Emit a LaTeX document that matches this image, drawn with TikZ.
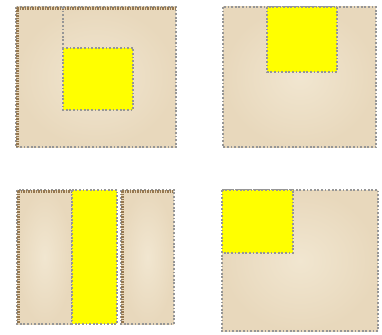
\documentclass[tikz,border=0pt]{standalone}
\usetikzlibrary{shadings}
\definecolor{parchlight}{RGB}{241,230,208}
\definecolor{parchdark}{RGB}{232,216,188}
\definecolor{edgebrown}{RGB}{150,120,80}
\definecolor{dashgray}{RGB}{150,150,150}
\definecolor{pureyellow}{RGB}{255,255,0}
\tikzset{
  paper/.style={inner color=parchlight, outer color=parchdark},
  border/.style={draw=dashgray, line width=1.2pt, dash pattern=on 1.8pt off 1.8pt},
  hilite/.style={fill=pureyellow, draw=dashgray, line width=1.2pt, dash pattern=on 1.8pt off 1.8pt},
  brownedge/.style={draw=edgebrown, line width=2.2pt, dash pattern=on 1.5pt off 1pt}
}
\begin{document}
\begin{tikzpicture}[x=1pt,y=-1pt]
\useasboundingbox (0,0) rectangle (382,334);
% top-left panel
\shade[paper] (16,7) rectangle (176,147);
\draw[border] (16,7) rectangle (176,147);
\draw[brownedge] (17.5,8) -- (17.5,146);
\draw[brownedge] (17,8.5) -- (175,8.5);
\draw[border] (63,7) -- (63,48);
\draw[hilite] (63,48) rectangle (133,110);
% top-right panel
\shade[paper] (223,7) rectangle (376,147);
\draw[border] (223,7) rectangle (376,147);
\draw[hilite] (267,7) rectangle (337,72);
% bottom-left panels
\shade[paper] (17,190) rectangle (72,324);
\draw[border] (17,190) rectangle (72,324);
\draw[brownedge] (18.5,191) -- (18.5,323);
\draw[brownedge] (18,191.5) -- (71,191.5);
\shade[paper] (121,190) rectangle (174,324);
\draw[border] (121,190) rectangle (174,324);
\draw[brownedge] (122.5,191) -- (122.5,323);
\draw[brownedge] (122,191.5) -- (173,191.5);
\draw[hilite] (72,190) rectangle (117,324);
% bottom-right panel
\shade[paper] (222,190) rectangle (378,331);
\draw[border] (222,190) rectangle (378,331);
\draw[hilite] (222,190) rectangle (293,253);
\end{tikzpicture}
\end{document}
